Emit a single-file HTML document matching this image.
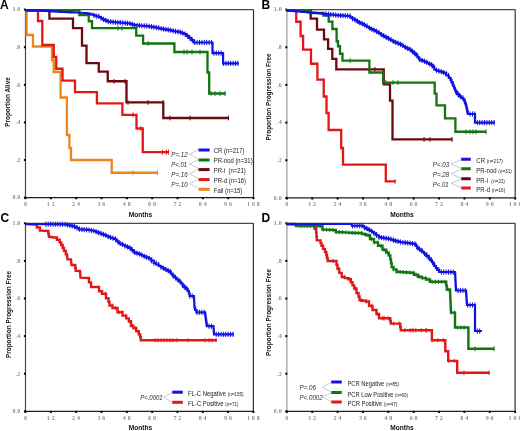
<!DOCTYPE html>
<html><head><meta charset="utf-8"><style>
html,body{margin:0;padding:0;background:#fff;}
body{width:520px;height:431px;overflow:hidden;}
svg{display:block;filter:blur(0.3px);}
text{font-family:"Liberation Sans",sans-serif;}
.yl,.xl{font-family:"Liberation Serif",serif;font-size:6px;font-weight:bold;fill:#8a8a8a;letter-spacing:0.2px;}
.mo{font-weight:bold;font-size:6.6px;fill:#111;}
.yt{font-weight:bold;font-size:6.4px;fill:#111;}
.let{font-weight:bold;font-size:12px;fill:#000;}
.lg{font-size:6.6px;fill:#1a1a1a;}
.sm{font-size:5.1px;}
.pv{font-style:italic;font-size:6.6px;fill:#2a2a2a;}
</style></head><body>
<svg width="520" height="431" viewBox="0 0 520 431">
<rect width="520" height="431" fill="#fff"/>
<path d="M25.5 9.6H253.5" fill="none" stroke="#4a4a4a" stroke-width="1.3"/>
<path d="M253.5 9.6V197.6" fill="none" stroke="#303030" stroke-width="1.2"/>
<path d="M25.5 9.6V197.6" fill="none" stroke="#454545" stroke-width="1.2"/>
<path d="M25.5 197.6H253.5" fill="none" stroke="#202020" stroke-width="1.3"/>
<rect x="23.90" y="196.60" width="2" height="2" fill="#000"/>
<rect x="23.90" y="159.00" width="2" height="2" fill="#000"/>
<rect x="23.90" y="121.40" width="2" height="2" fill="#000"/>
<rect x="23.90" y="83.80" width="2" height="2" fill="#000"/>
<rect x="23.90" y="46.20" width="2" height="2" fill="#000"/>
<rect x="23.90" y="8.60" width="2" height="2" fill="#000"/>
<rect x="24.50" y="197.20" width="2" height="2" fill="#000"/>
<rect x="49.83" y="197.20" width="2" height="2" fill="#000"/>
<rect x="75.17" y="197.20" width="2" height="2" fill="#000"/>
<rect x="100.50" y="197.20" width="2" height="2" fill="#000"/>
<rect x="125.83" y="197.20" width="2" height="2" fill="#000"/>
<rect x="151.17" y="197.20" width="2" height="2" fill="#000"/>
<rect x="176.50" y="197.20" width="2" height="2" fill="#000"/>
<rect x="201.83" y="197.20" width="2" height="2" fill="#000"/>
<rect x="227.17" y="197.20" width="2" height="2" fill="#000"/>
<rect x="252.50" y="197.20" width="2" height="2" fill="#000"/>
<text x="20.50" y="199.40" class="yl" text-anchor="end">0.0</text>
<text x="20.50" y="161.80" class="yl" text-anchor="end">.2</text>
<text x="20.50" y="124.20" class="yl" text-anchor="end">.4</text>
<text x="20.50" y="86.60" class="yl" text-anchor="end">.6</text>
<text x="20.50" y="49.00" class="yl" text-anchor="end">.8</text>
<text x="20.50" y="11.40" class="yl" text-anchor="end">1.0</text>
<text x="25.50" y="206.10" class="xl" text-anchor="middle">0</text>
<text x="50.83" y="206.10" class="xl" text-anchor="middle">1 2</text>
<text x="76.17" y="206.10" class="xl" text-anchor="middle">2 4</text>
<text x="101.50" y="206.10" class="xl" text-anchor="middle">3 6</text>
<text x="126.83" y="206.10" class="xl" text-anchor="middle">4 8</text>
<text x="152.17" y="206.10" class="xl" text-anchor="middle">6 0</text>
<text x="177.50" y="206.10" class="xl" text-anchor="middle">7 2</text>
<text x="202.83" y="206.10" class="xl" text-anchor="middle">8 4</text>
<text x="228.17" y="206.10" class="xl" text-anchor="middle">9 6</text>
<text x="253.50" y="206.10" class="xl" text-anchor="middle">1 0 8</text>
<text x="140.50" y="216.60" class="mo" text-anchor="middle">Months</text>
<path d="M286.9 9.6H515.2" fill="none" stroke="#4a4a4a" stroke-width="1.3"/>
<path d="M515.2 9.6V197.9" fill="none" stroke="#303030" stroke-width="1.2"/>
<path d="M286.9 9.6V197.9" fill="none" stroke="#9a9a9a" stroke-width="1.2"/>
<path d="M286.9 197.9H515.2" fill="none" stroke="#202020" stroke-width="1.3"/>
<rect x="285.30" y="196.90" width="2" height="2" fill="#000"/>
<rect x="285.30" y="159.24" width="2" height="2" fill="#000"/>
<rect x="285.30" y="121.58" width="2" height="2" fill="#000"/>
<rect x="285.30" y="83.92" width="2" height="2" fill="#000"/>
<rect x="285.30" y="46.26" width="2" height="2" fill="#000"/>
<rect x="285.30" y="8.60" width="2" height="2" fill="#000"/>
<rect x="285.90" y="197.50" width="2" height="2" fill="#000"/>
<rect x="311.27" y="197.50" width="2" height="2" fill="#000"/>
<rect x="336.63" y="197.50" width="2" height="2" fill="#000"/>
<rect x="362.00" y="197.50" width="2" height="2" fill="#000"/>
<rect x="387.37" y="197.50" width="2" height="2" fill="#000"/>
<rect x="412.73" y="197.50" width="2" height="2" fill="#000"/>
<rect x="438.10" y="197.50" width="2" height="2" fill="#000"/>
<rect x="463.47" y="197.50" width="2" height="2" fill="#000"/>
<rect x="488.83" y="197.50" width="2" height="2" fill="#000"/>
<rect x="514.20" y="197.50" width="2" height="2" fill="#000"/>
<text x="281.90" y="199.70" class="yl" text-anchor="end">0.0</text>
<text x="281.90" y="162.04" class="yl" text-anchor="end">.2</text>
<text x="281.90" y="124.38" class="yl" text-anchor="end">.4</text>
<text x="281.90" y="86.72" class="yl" text-anchor="end">.6</text>
<text x="281.90" y="49.06" class="yl" text-anchor="end">.8</text>
<text x="281.90" y="11.40" class="yl" text-anchor="end">1.0</text>
<text x="286.90" y="206.40" class="xl" text-anchor="middle">0</text>
<text x="312.27" y="206.40" class="xl" text-anchor="middle">1 2</text>
<text x="337.63" y="206.40" class="xl" text-anchor="middle">2 4</text>
<text x="363.00" y="206.40" class="xl" text-anchor="middle">3 6</text>
<text x="388.37" y="206.40" class="xl" text-anchor="middle">4 8</text>
<text x="413.73" y="206.40" class="xl" text-anchor="middle">6 0</text>
<text x="439.10" y="206.40" class="xl" text-anchor="middle">7 2</text>
<text x="464.47" y="206.40" class="xl" text-anchor="middle">8 4</text>
<text x="489.83" y="206.40" class="xl" text-anchor="middle">9 6</text>
<text x="515.20" y="206.40" class="xl" text-anchor="middle">1 0 8</text>
<text x="402.05" y="216.90" class="mo" text-anchor="middle">Months</text>
<path d="M25.5 223.3H253.4" fill="none" stroke="#4a4a4a" stroke-width="1.3"/>
<path d="M253.4 223.3V411.3" fill="none" stroke="#303030" stroke-width="1.2"/>
<path d="M25.5 223.3V411.3" fill="none" stroke="#454545" stroke-width="1.2"/>
<path d="M25.5 411.3H253.4" fill="none" stroke="#202020" stroke-width="1.3"/>
<rect x="23.90" y="410.30" width="2" height="2" fill="#000"/>
<rect x="23.90" y="372.70" width="2" height="2" fill="#000"/>
<rect x="23.90" y="335.10" width="2" height="2" fill="#000"/>
<rect x="23.90" y="297.50" width="2" height="2" fill="#000"/>
<rect x="23.90" y="259.90" width="2" height="2" fill="#000"/>
<rect x="23.90" y="222.30" width="2" height="2" fill="#000"/>
<rect x="24.50" y="410.90" width="2" height="2" fill="#000"/>
<rect x="49.82" y="410.90" width="2" height="2" fill="#000"/>
<rect x="75.14" y="410.90" width="2" height="2" fill="#000"/>
<rect x="100.47" y="410.90" width="2" height="2" fill="#000"/>
<rect x="125.79" y="410.90" width="2" height="2" fill="#000"/>
<rect x="151.11" y="410.90" width="2" height="2" fill="#000"/>
<rect x="176.43" y="410.90" width="2" height="2" fill="#000"/>
<rect x="201.76" y="410.90" width="2" height="2" fill="#000"/>
<rect x="227.08" y="410.90" width="2" height="2" fill="#000"/>
<rect x="252.40" y="410.90" width="2" height="2" fill="#000"/>
<text x="20.50" y="413.10" class="yl" text-anchor="end">0.0</text>
<text x="20.50" y="375.50" class="yl" text-anchor="end">.2</text>
<text x="20.50" y="337.90" class="yl" text-anchor="end">.4</text>
<text x="20.50" y="300.30" class="yl" text-anchor="end">.6</text>
<text x="20.50" y="262.70" class="yl" text-anchor="end">.8</text>
<text x="20.50" y="225.10" class="yl" text-anchor="end">1.0</text>
<text x="25.50" y="419.80" class="xl" text-anchor="middle">0</text>
<text x="50.82" y="419.80" class="xl" text-anchor="middle">1 2</text>
<text x="76.14" y="419.80" class="xl" text-anchor="middle">2 4</text>
<text x="101.47" y="419.80" class="xl" text-anchor="middle">3 6</text>
<text x="126.79" y="419.80" class="xl" text-anchor="middle">4 8</text>
<text x="152.11" y="419.80" class="xl" text-anchor="middle">6 0</text>
<text x="177.43" y="419.80" class="xl" text-anchor="middle">7 2</text>
<text x="202.76" y="419.80" class="xl" text-anchor="middle">8 4</text>
<text x="228.08" y="419.80" class="xl" text-anchor="middle">9 6</text>
<text x="253.40" y="419.80" class="xl" text-anchor="middle">1 0 8</text>
<text x="140.45" y="430.30" class="mo" text-anchor="middle">Months</text>
<path d="M286.9 223.3H515.1" fill="none" stroke="#4a4a4a" stroke-width="1.3"/>
<path d="M515.1 223.3V411.3" fill="none" stroke="#303030" stroke-width="1.2"/>
<path d="M286.9 223.3V411.3" fill="none" stroke="#9a9a9a" stroke-width="1.2"/>
<path d="M286.9 411.3H515.1" fill="none" stroke="#202020" stroke-width="1.3"/>
<rect x="285.30" y="410.30" width="2" height="2" fill="#000"/>
<rect x="285.30" y="372.70" width="2" height="2" fill="#000"/>
<rect x="285.30" y="335.10" width="2" height="2" fill="#000"/>
<rect x="285.30" y="297.50" width="2" height="2" fill="#000"/>
<rect x="285.30" y="259.90" width="2" height="2" fill="#000"/>
<rect x="285.30" y="222.30" width="2" height="2" fill="#000"/>
<rect x="285.90" y="410.90" width="2" height="2" fill="#000"/>
<rect x="311.26" y="410.90" width="2" height="2" fill="#000"/>
<rect x="336.61" y="410.90" width="2" height="2" fill="#000"/>
<rect x="361.97" y="410.90" width="2" height="2" fill="#000"/>
<rect x="387.32" y="410.90" width="2" height="2" fill="#000"/>
<rect x="412.68" y="410.90" width="2" height="2" fill="#000"/>
<rect x="438.03" y="410.90" width="2" height="2" fill="#000"/>
<rect x="463.39" y="410.90" width="2" height="2" fill="#000"/>
<rect x="488.74" y="410.90" width="2" height="2" fill="#000"/>
<rect x="514.10" y="410.90" width="2" height="2" fill="#000"/>
<text x="281.90" y="413.10" class="yl" text-anchor="end">0.0</text>
<text x="281.90" y="375.50" class="yl" text-anchor="end">.2</text>
<text x="281.90" y="337.90" class="yl" text-anchor="end">.4</text>
<text x="281.90" y="300.30" class="yl" text-anchor="end">.6</text>
<text x="281.90" y="262.70" class="yl" text-anchor="end">.8</text>
<text x="281.90" y="225.10" class="yl" text-anchor="end">1.0</text>
<text x="286.90" y="419.80" class="xl" text-anchor="middle">0</text>
<text x="312.26" y="419.80" class="xl" text-anchor="middle">1 2</text>
<text x="337.61" y="419.80" class="xl" text-anchor="middle">2 4</text>
<text x="362.97" y="419.80" class="xl" text-anchor="middle">3 6</text>
<text x="388.32" y="419.80" class="xl" text-anchor="middle">4 8</text>
<text x="413.68" y="419.80" class="xl" text-anchor="middle">6 0</text>
<text x="439.03" y="419.80" class="xl" text-anchor="middle">7 2</text>
<text x="464.39" y="419.80" class="xl" text-anchor="middle">8 4</text>
<text x="489.74" y="419.80" class="xl" text-anchor="middle">9 6</text>
<text x="515.10" y="419.80" class="xl" text-anchor="middle">1 0 8</text>
<text x="402.00" y="430.30" class="mo" text-anchor="middle">Months</text>
<polyline points="25.50,10.50 26.60,10.50 26.60,35.00 33.00,35.00 33.00,46.50 52.00,46.50 52.00,60.00 53.75,60.00 53.75,72.00 60.60,72.00 60.60,97.50 66.90,97.50 66.90,135.00 69.40,135.00 69.40,148.00 71.00,148.00 71.00,160.00 111.70,160.00 111.70,172.75 157.50,172.75" fill="none" stroke="#eb861c" stroke-width="2.3" stroke-linejoin="miter" stroke-linecap="butt"/>
<rect x="132.40" y="170.35" width="1.0" height="4.8" fill="#eb861c"/>
<rect x="157.00" y="170.35" width="1.0" height="4.8" fill="#eb861c"/>
<polyline points="25.50,10.50 38.00,10.50 38.00,21.00 42.30,21.00 42.30,45.00 53.75,45.00 53.75,57.00 56.25,57.00 56.25,68.75 62.50,68.75 62.50,80.60 75.00,80.60 75.00,92.10 96.90,92.10 96.90,103.30 122.40,103.30 122.40,114.90 136.50,114.90 136.50,128.50 142.75,128.50 142.75,152.10 168.75,152.10" fill="none" stroke="#e21818" stroke-width="2.3" stroke-linejoin="miter" stroke-linecap="butt"/>
<rect x="132.50" y="112.50" width="1.0" height="4.8" fill="#e21818"/>
<rect x="140.50" y="126.10" width="1.0" height="4.8" fill="#e21818"/>
<rect x="162.00" y="149.70" width="1.0" height="4.8" fill="#e21818"/>
<rect x="165.80" y="149.70" width="1.0" height="4.8" fill="#e21818"/>
<rect x="168.00" y="149.70" width="1.0" height="4.8" fill="#e21818"/>
<polyline points="25.50,10.50 49.40,10.50 49.40,18.60 73.00,18.60 73.00,28.10 82.00,28.10 82.00,45.60 86.50,45.60 86.50,63.10 98.75,63.10 98.75,71.60 107.75,71.60 107.75,81.25 126.50,81.25 126.50,102.40 163.30,102.40 163.30,118.00 228.75,118.00" fill="none" stroke="#6c0812" stroke-width="2.3" stroke-linejoin="miter" stroke-linecap="butt"/>
<rect x="113.50" y="78.85" width="1.0" height="4.8" fill="#6c0812"/>
<rect x="124.50" y="78.85" width="1.0" height="4.8" fill="#6c0812"/>
<rect x="127.50" y="100.00" width="1.0" height="4.8" fill="#6c0812"/>
<rect x="147.50" y="100.00" width="1.0" height="4.8" fill="#6c0812"/>
<rect x="162.50" y="100.00" width="1.0" height="4.8" fill="#6c0812"/>
<rect x="169.50" y="115.60" width="1.0" height="4.8" fill="#6c0812"/>
<rect x="189.50" y="115.60" width="1.0" height="4.8" fill="#6c0812"/>
<rect x="228.00" y="115.60" width="1.0" height="4.8" fill="#6c0812"/>
<polyline points="25.50,10.50 79.40,10.50 79.40,15.00 88.75,15.00 88.75,21.25 92.00,21.25 92.00,28.10 136.25,28.10 136.25,35.60 143.10,35.60 143.10,43.50 174.40,43.50 174.40,52.00 207.50,52.00 207.50,72.50 209.20,72.50 209.20,93.50 225.60,93.50" fill="none" stroke="#127512" stroke-width="2.3" stroke-linejoin="miter" stroke-linecap="butt"/>
<rect x="117.50" y="25.70" width="1.0" height="4.8" fill="#127512"/>
<rect x="121.50" y="25.70" width="1.0" height="4.8" fill="#127512"/>
<rect x="147.50" y="41.10" width="1.0" height="4.8" fill="#127512"/>
<rect x="183.50" y="49.60" width="1.0" height="4.8" fill="#127512"/>
<rect x="186.50" y="49.60" width="1.0" height="4.8" fill="#127512"/>
<rect x="191.50" y="49.60" width="1.0" height="4.8" fill="#127512"/>
<rect x="199.50" y="49.60" width="1.0" height="4.8" fill="#127512"/>
<rect x="210.50" y="91.10" width="1.0" height="4.8" fill="#127512"/>
<rect x="214.50" y="91.10" width="1.0" height="4.8" fill="#127512"/>
<rect x="219.50" y="91.10" width="1.0" height="4.8" fill="#127512"/>
<rect x="224.50" y="91.10" width="1.0" height="4.8" fill="#127512"/>
<polyline points="25.50,10.20 40.00,10.40 40.94,10.40 40.94,10.54 42.81,10.54 42.81,10.68 44.69,10.68 44.69,10.81 46.56,10.81 46.56,10.95 48.44,10.95 48.44,11.09 50.31,11.09 50.31,11.22 52.19,11.22 52.19,11.36 54.06,11.36 54.06,11.50 55.00,11.50 56.00,11.50 56.00,11.60 58.00,11.60 58.00,11.70 60.00,11.70 60.00,11.80 62.00,11.80 62.00,11.90 64.00,11.90 64.00,12.00 66.00,12.00 66.00,12.10 68.00,12.10 68.00,12.20 70.00,12.20 70.00,12.30 72.00,12.30 72.00,12.40 74.00,12.40 74.00,12.50 75.00,12.50 85.00,13.00 86.25,13.00 86.25,13.40 88.75,13.40 88.75,13.80 90.00,13.80 91.25,13.80 91.25,14.55 93.75,14.55 93.75,15.30 95.00,15.30 96.25,15.30 96.25,16.25 98.75,16.25 98.75,17.20 100.00,17.20 101.00,17.20 101.00,18.27 103.00,18.27 103.00,19.35 105.00,19.35 105.00,20.43 107.00,20.43 107.00,21.50 108.00,21.50 109.00,21.50 109.00,21.68 111.00,21.68 111.00,21.86 113.00,21.86 113.00,22.05 115.00,22.05 115.00,22.23 117.00,22.23 117.00,22.41 119.00,22.41 119.00,22.59 121.00,22.59 121.00,22.77 123.00,22.77 123.00,22.95 125.00,22.95 125.00,23.14 127.00,23.14 127.00,23.32 129.00,23.32 129.00,23.50 130.00,23.50 131.25,23.50 131.25,24.35 133.75,24.35 133.75,25.20 135.00,25.20 135.94,25.20 135.94,25.34 137.81,25.34 137.81,25.48 139.69,25.48 139.69,25.61 141.56,25.61 141.56,25.75 143.44,25.75 143.44,25.89 145.31,25.89 145.31,26.02 147.19,26.02 147.19,26.16 149.06,26.16 149.06,26.30 150.00,26.30 151.00,26.30 151.00,26.70 153.00,26.70 153.00,27.10 155.00,27.10 155.00,27.50 157.00,27.50 157.00,27.90 159.00,27.90 159.00,28.30 160.00,28.30 161.00,28.30 161.00,28.68 163.00,28.68 163.00,29.06 165.00,29.06 165.00,29.44 167.00,29.44 167.00,29.82 169.00,29.82 169.00,30.20 170.00,30.20 171.00,30.20 171.00,30.58 173.00,30.58 173.00,30.96 175.00,30.96 175.00,31.34 177.00,31.34 177.00,31.72 179.00,31.72 179.00,32.10 180.00,32.10 181.25,32.10 181.25,33.05 183.75,33.05 183.75,34.00 185.00,34.00 186.25,34.00 186.25,35.95 188.75,35.95 188.75,37.90 190.00,37.90 191.25,37.90 191.25,40.20 193.75,40.20 193.75,42.50 195.00,42.50 212.50,42.50 212.50,53.10 223.10,53.10 223.10,63.30 238.75,63.30" fill="none" stroke="#1212e2" stroke-width="2.2" stroke-linejoin="miter" stroke-linecap="butt"/>
<rect x="93.40" y="12.70" width="1.0" height="5.2" fill="#1212e2"/>
<rect x="95.80" y="13.65" width="1.0" height="5.2" fill="#1212e2"/>
<rect x="98.20" y="13.65" width="1.0" height="5.2" fill="#1212e2"/>
<rect x="100.60" y="15.67" width="1.0" height="5.2" fill="#1212e2"/>
<rect x="103.00" y="16.75" width="1.0" height="5.2" fill="#1212e2"/>
<rect x="105.40" y="17.82" width="1.0" height="5.2" fill="#1212e2"/>
<rect x="107.80" y="18.90" width="1.0" height="5.2" fill="#1212e2"/>
<rect x="110.20" y="19.08" width="1.0" height="5.2" fill="#1212e2"/>
<rect x="112.60" y="19.45" width="1.0" height="5.2" fill="#1212e2"/>
<rect x="115.00" y="19.63" width="1.0" height="5.2" fill="#1212e2"/>
<rect x="117.40" y="19.81" width="1.0" height="5.2" fill="#1212e2"/>
<rect x="119.80" y="19.99" width="1.0" height="5.2" fill="#1212e2"/>
<rect x="122.20" y="20.17" width="1.0" height="5.2" fill="#1212e2"/>
<rect x="124.60" y="20.54" width="1.0" height="5.2" fill="#1212e2"/>
<rect x="127.00" y="20.72" width="1.0" height="5.2" fill="#1212e2"/>
<rect x="129.40" y="20.90" width="1.0" height="5.2" fill="#1212e2"/>
<rect x="131.80" y="21.75" width="1.0" height="5.2" fill="#1212e2"/>
<rect x="134.20" y="22.60" width="1.0" height="5.2" fill="#1212e2"/>
<rect x="136.60" y="22.74" width="1.0" height="5.2" fill="#1212e2"/>
<rect x="139.00" y="22.88" width="1.0" height="5.2" fill="#1212e2"/>
<rect x="141.40" y="23.15" width="1.0" height="5.2" fill="#1212e2"/>
<rect x="143.80" y="23.29" width="1.0" height="5.2" fill="#1212e2"/>
<rect x="146.20" y="23.42" width="1.0" height="5.2" fill="#1212e2"/>
<rect x="148.60" y="23.70" width="1.0" height="5.2" fill="#1212e2"/>
<rect x="151.00" y="24.10" width="1.0" height="5.2" fill="#1212e2"/>
<rect x="153.40" y="24.50" width="1.0" height="5.2" fill="#1212e2"/>
<rect x="155.80" y="24.90" width="1.0" height="5.2" fill="#1212e2"/>
<rect x="158.20" y="25.30" width="1.0" height="5.2" fill="#1212e2"/>
<rect x="160.60" y="26.08" width="1.0" height="5.2" fill="#1212e2"/>
<rect x="163.00" y="26.46" width="1.0" height="5.2" fill="#1212e2"/>
<rect x="165.40" y="26.84" width="1.0" height="5.2" fill="#1212e2"/>
<rect x="167.80" y="27.22" width="1.0" height="5.2" fill="#1212e2"/>
<rect x="170.20" y="27.60" width="1.0" height="5.2" fill="#1212e2"/>
<rect x="172.60" y="28.36" width="1.0" height="5.2" fill="#1212e2"/>
<rect x="175.00" y="28.74" width="1.0" height="5.2" fill="#1212e2"/>
<rect x="177.40" y="29.12" width="1.0" height="5.2" fill="#1212e2"/>
<rect x="179.80" y="29.50" width="1.0" height="5.2" fill="#1212e2"/>
<rect x="182.20" y="30.45" width="1.0" height="5.2" fill="#1212e2"/>
<rect x="184.60" y="31.40" width="1.0" height="5.2" fill="#1212e2"/>
<rect x="187.00" y="33.35" width="1.0" height="5.2" fill="#1212e2"/>
<rect x="189.40" y="35.30" width="1.0" height="5.2" fill="#1212e2"/>
<rect x="191.80" y="37.60" width="1.0" height="5.2" fill="#1212e2"/>
<rect x="194.20" y="39.90" width="1.0" height="5.2" fill="#1212e2"/>
<rect x="196.60" y="39.90" width="1.0" height="5.2" fill="#1212e2"/>
<rect x="199.00" y="39.90" width="1.0" height="5.2" fill="#1212e2"/>
<rect x="201.40" y="39.90" width="1.0" height="5.2" fill="#1212e2"/>
<rect x="203.80" y="39.90" width="1.0" height="5.2" fill="#1212e2"/>
<rect x="206.20" y="39.90" width="1.0" height="5.2" fill="#1212e2"/>
<rect x="208.60" y="39.90" width="1.0" height="5.2" fill="#1212e2"/>
<rect x="211.00" y="39.90" width="1.0" height="5.2" fill="#1212e2"/>
<rect x="213.40" y="50.50" width="1.0" height="5.2" fill="#1212e2"/>
<rect x="215.80" y="50.50" width="1.0" height="5.2" fill="#1212e2"/>
<rect x="218.20" y="50.50" width="1.0" height="5.2" fill="#1212e2"/>
<rect x="220.60" y="50.50" width="1.0" height="5.2" fill="#1212e2"/>
<rect x="223.00" y="60.70" width="1.0" height="5.2" fill="#1212e2"/>
<rect x="225.40" y="60.70" width="1.0" height="5.2" fill="#1212e2"/>
<rect x="227.80" y="60.70" width="1.0" height="5.2" fill="#1212e2"/>
<rect x="230.20" y="60.70" width="1.0" height="5.2" fill="#1212e2"/>
<rect x="232.60" y="60.70" width="1.0" height="5.2" fill="#1212e2"/>
<rect x="235.00" y="60.70" width="1.0" height="5.2" fill="#1212e2"/>
<rect x="237.40" y="60.70" width="1.0" height="5.2" fill="#1212e2"/>
<polyline points="286.50,10.50 296.25,10.50 296.25,21.75 300.60,21.75 300.60,36.00 303.10,36.00 303.10,49.60 311.00,49.60 311.00,63.75 317.40,63.75 317.40,79.60 323.75,79.60 323.75,96.50 326.50,96.50 326.50,113.00 328.60,113.00 328.60,130.00 341.20,130.00 341.20,148.00 343.00,148.00 343.00,164.60 385.80,164.60 385.80,181.30 395.70,181.30" fill="none" stroke="#e21818" stroke-width="2.3" stroke-linejoin="miter" stroke-linecap="butt"/>
<rect x="394.50" y="178.90" width="1.0" height="4.8" fill="#e21818"/>
<polyline points="286.50,10.50 310.70,10.50 310.70,18.70 317.00,18.70 317.00,29.60 324.00,29.60 324.00,39.30 328.10,39.30 328.10,48.90 332.30,48.90 332.30,58.90 336.30,58.90 336.30,69.30 383.75,69.30 383.75,84.40 390.00,84.40 390.00,100.60 392.50,100.60 392.50,139.40 452.50,139.40" fill="none" stroke="#6c0812" stroke-width="2.3" stroke-linejoin="miter" stroke-linecap="butt"/>
<rect x="374.50" y="66.90" width="1.0" height="4.8" fill="#6c0812"/>
<rect x="423.50" y="137.00" width="1.0" height="4.8" fill="#6c0812"/>
<rect x="429.50" y="137.00" width="1.0" height="4.8" fill="#6c0812"/>
<rect x="451.50" y="137.00" width="1.0" height="4.8" fill="#6c0812"/>
<polyline points="286.50,10.50 310.00,10.50 310.00,13.00 323.40,13.00 323.40,15.60 328.70,15.60 328.70,21.70 332.40,21.70 332.40,29.00 336.60,29.00 336.60,41.25 338.00,41.25 338.00,46.25 340.00,46.25 340.00,53.75 342.50,53.75 342.50,60.60 369.40,60.60 369.40,72.50 383.10,72.50 383.10,82.60 434.70,82.60 434.70,93.60 436.50,93.60 436.50,105.40 445.00,105.40 445.00,118.30 455.40,118.30 455.40,131.75 486.25,131.75" fill="none" stroke="#127512" stroke-width="2.3" stroke-linejoin="miter" stroke-linecap="butt"/>
<rect x="349.50" y="58.20" width="1.0" height="4.8" fill="#127512"/>
<rect x="385.50" y="80.20" width="1.0" height="4.8" fill="#127512"/>
<rect x="392.50" y="80.20" width="1.0" height="4.8" fill="#127512"/>
<rect x="397.50" y="80.20" width="1.0" height="4.8" fill="#127512"/>
<rect x="465.50" y="129.35" width="1.0" height="4.8" fill="#127512"/>
<rect x="469.50" y="129.35" width="1.0" height="4.8" fill="#127512"/>
<rect x="472.50" y="129.35" width="1.0" height="4.8" fill="#127512"/>
<rect x="475.50" y="129.35" width="1.0" height="4.8" fill="#127512"/>
<rect x="485.50" y="129.35" width="1.0" height="4.8" fill="#127512"/>
<polyline points="286.50,10.50 287.56,10.50 287.56,10.68 289.69,10.68 289.69,10.85 291.81,10.85 291.81,11.02 293.94,11.02 293.94,11.20 295.00,11.20 296.00,11.20 296.00,11.36 298.00,11.36 298.00,11.52 300.00,11.52 300.00,11.68 302.00,11.68 302.00,11.84 304.00,11.84 304.00,12.00 306.00,12.00 306.00,12.16 308.00,12.16 308.00,12.32 310.00,12.32 310.00,12.48 312.00,12.48 312.00,12.64 314.00,12.64 314.00,12.80 315.00,12.80 315.99,12.80 315.99,13.02 317.97,13.02 317.97,13.24 319.95,13.24 319.95,13.45 321.94,13.45 321.94,13.67 323.92,13.67 323.92,13.89 325.90,13.89 325.90,14.11 327.88,14.11 327.88,14.33 329.86,14.33 329.86,14.55 331.85,14.55 331.85,14.76 333.83,14.76 333.83,14.98 335.81,14.98 335.81,15.20 336.80,15.20 337.83,15.20 337.83,15.33 339.90,15.33 339.90,15.47 341.97,15.47 341.97,15.60 344.03,15.60 344.03,15.73 346.10,15.73 346.10,15.87 348.17,15.87 348.17,16.00 349.20,16.00 350.28,16.00 350.28,17.32 352.44,17.32 352.44,18.64 354.60,18.64 354.60,19.96 356.76,19.96 356.76,21.28 358.92,21.28 358.92,22.60 360.00,22.60 361.00,22.60 361.00,23.68 363.00,23.68 363.00,24.76 365.00,24.76 365.00,25.84 367.00,25.84 367.00,26.92 369.00,26.92 369.00,28.00 370.00,28.00 371.00,28.00 371.00,29.08 373.00,29.08 373.00,30.16 375.00,30.16 375.00,31.24 377.00,31.24 377.00,32.32 379.00,32.32 379.00,33.40 380.00,33.40 381.00,33.40 381.00,34.62 383.00,34.62 383.00,35.84 385.00,35.84 385.00,37.06 387.00,37.06 387.00,38.28 389.00,38.28 389.00,39.50 390.00,39.50 391.00,39.50 391.00,40.44 393.00,40.44 393.00,41.38 395.00,41.38 395.00,42.32 397.00,42.32 397.00,43.26 399.00,43.26 399.00,44.20 400.00,44.20 401.00,44.20 401.00,45.26 403.00,45.26 403.00,46.32 405.00,46.32 405.00,47.38 407.00,47.38 407.00,48.44 409.00,48.44 409.00,49.50 410.00,49.50 411.25,49.50 411.25,51.45 413.75,51.45 413.75,53.40 415.00,53.40 415.83,53.40 415.83,55.43 417.50,55.43 417.50,57.47 419.17,57.47 419.17,59.50 420.00,59.50 421.00,59.50 421.00,60.38 423.00,60.38 423.00,61.27 425.00,61.27 425.00,62.15 427.00,62.15 427.00,63.03 429.00,63.03 429.00,63.92 431.00,63.92 431.00,64.80 432.00,64.80 432.75,64.80 432.75,67.15 434.25,67.15 434.25,69.50 435.00,69.50 436.00,69.50 436.00,70.24 438.00,70.24 438.00,70.98 440.00,70.98 440.00,71.72 442.00,71.72 442.00,72.46 444.00,72.46 444.00,73.20 445.00,73.20 446.25,73.20 446.25,75.50 448.75,75.50 448.75,77.80 450.00,77.80 450.50,77.80 450.50,79.97 451.50,79.97 451.50,82.13 452.50,82.13 452.50,84.30 453.00,84.30 453.38,84.30 453.38,86.15 454.12,86.15 454.12,88.00 454.88,88.00 454.88,89.85 455.62,89.85 455.62,91.70 456.00,91.70 457.00,91.70 457.00,94.05 459.00,94.05 459.00,96.40 460.00,96.40 461.00,96.40 461.00,97.80 463.00,97.80 463.00,99.20 464.00,99.20 464.33,99.20 464.33,101.03 465.00,101.03 465.00,102.87 465.67,102.87 465.67,104.70 466.00,104.70 466.20,104.70 466.20,106.56 466.60,106.56 466.60,108.42 467.00,108.42 467.00,110.28 467.40,110.28 467.40,112.14 467.80,112.14 467.80,114.00 468.00,114.00 475.00,114.00 475.00,122.60 495.00,122.60" fill="none" stroke="#1212e2" stroke-width="2.2" stroke-linejoin="miter" stroke-linecap="butt"/>
<rect x="325.60" y="11.51" width="1.0" height="5.2" fill="#1212e2"/>
<rect x="328.00" y="11.73" width="1.0" height="5.2" fill="#1212e2"/>
<rect x="330.40" y="11.95" width="1.0" height="5.2" fill="#1212e2"/>
<rect x="332.80" y="12.16" width="1.0" height="5.2" fill="#1212e2"/>
<rect x="335.20" y="12.38" width="1.0" height="5.2" fill="#1212e2"/>
<rect x="337.60" y="12.73" width="1.0" height="5.2" fill="#1212e2"/>
<rect x="340.00" y="12.87" width="1.0" height="5.2" fill="#1212e2"/>
<rect x="342.40" y="13.00" width="1.0" height="5.2" fill="#1212e2"/>
<rect x="344.80" y="13.13" width="1.0" height="5.2" fill="#1212e2"/>
<rect x="347.20" y="13.27" width="1.0" height="5.2" fill="#1212e2"/>
<rect x="349.60" y="13.40" width="1.0" height="5.2" fill="#1212e2"/>
<rect x="352.00" y="16.04" width="1.0" height="5.2" fill="#1212e2"/>
<rect x="354.40" y="17.36" width="1.0" height="5.2" fill="#1212e2"/>
<rect x="356.80" y="18.68" width="1.0" height="5.2" fill="#1212e2"/>
<rect x="359.20" y="20.00" width="1.0" height="5.2" fill="#1212e2"/>
<rect x="361.60" y="21.08" width="1.0" height="5.2" fill="#1212e2"/>
<rect x="364.00" y="22.16" width="1.0" height="5.2" fill="#1212e2"/>
<rect x="366.40" y="23.24" width="1.0" height="5.2" fill="#1212e2"/>
<rect x="368.80" y="25.40" width="1.0" height="5.2" fill="#1212e2"/>
<rect x="371.20" y="26.48" width="1.0" height="5.2" fill="#1212e2"/>
<rect x="373.60" y="27.56" width="1.0" height="5.2" fill="#1212e2"/>
<rect x="376.00" y="28.64" width="1.0" height="5.2" fill="#1212e2"/>
<rect x="378.40" y="29.72" width="1.0" height="5.2" fill="#1212e2"/>
<rect x="380.80" y="32.02" width="1.0" height="5.2" fill="#1212e2"/>
<rect x="383.20" y="33.24" width="1.0" height="5.2" fill="#1212e2"/>
<rect x="385.60" y="34.46" width="1.0" height="5.2" fill="#1212e2"/>
<rect x="388.00" y="35.68" width="1.0" height="5.2" fill="#1212e2"/>
<rect x="390.40" y="36.90" width="1.0" height="5.2" fill="#1212e2"/>
<rect x="392.80" y="38.78" width="1.0" height="5.2" fill="#1212e2"/>
<rect x="395.20" y="39.72" width="1.0" height="5.2" fill="#1212e2"/>
<rect x="397.60" y="40.66" width="1.0" height="5.2" fill="#1212e2"/>
<rect x="400.00" y="41.60" width="1.0" height="5.2" fill="#1212e2"/>
<rect x="402.40" y="42.66" width="1.0" height="5.2" fill="#1212e2"/>
<rect x="404.80" y="44.78" width="1.0" height="5.2" fill="#1212e2"/>
<rect x="407.20" y="45.84" width="1.0" height="5.2" fill="#1212e2"/>
<rect x="409.60" y="46.90" width="1.0" height="5.2" fill="#1212e2"/>
<rect x="412.00" y="48.85" width="1.0" height="5.2" fill="#1212e2"/>
<rect x="414.40" y="50.80" width="1.0" height="5.2" fill="#1212e2"/>
<rect x="416.80" y="52.83" width="1.0" height="5.2" fill="#1212e2"/>
<rect x="419.20" y="56.90" width="1.0" height="5.2" fill="#1212e2"/>
<rect x="421.60" y="57.78" width="1.0" height="5.2" fill="#1212e2"/>
<rect x="424.00" y="58.67" width="1.0" height="5.2" fill="#1212e2"/>
<rect x="426.40" y="59.55" width="1.0" height="5.2" fill="#1212e2"/>
<rect x="428.80" y="61.32" width="1.0" height="5.2" fill="#1212e2"/>
<rect x="431.20" y="62.20" width="1.0" height="5.2" fill="#1212e2"/>
<rect x="433.60" y="64.55" width="1.0" height="5.2" fill="#1212e2"/>
<rect x="436.00" y="67.64" width="1.0" height="5.2" fill="#1212e2"/>
<rect x="438.40" y="68.38" width="1.0" height="5.2" fill="#1212e2"/>
<rect x="440.80" y="69.12" width="1.0" height="5.2" fill="#1212e2"/>
<rect x="443.20" y="69.86" width="1.0" height="5.2" fill="#1212e2"/>
<rect x="445.60" y="70.60" width="1.0" height="5.2" fill="#1212e2"/>
<rect x="448.00" y="72.90" width="1.0" height="5.2" fill="#1212e2"/>
<rect x="450.40" y="77.37" width="1.0" height="5.2" fill="#1212e2"/>
<rect x="452.80" y="81.70" width="1.0" height="5.2" fill="#1212e2"/>
<rect x="455.20" y="89.10" width="1.0" height="5.2" fill="#1212e2"/>
<rect x="457.60" y="91.45" width="1.0" height="5.2" fill="#1212e2"/>
<rect x="460.00" y="93.80" width="1.0" height="5.2" fill="#1212e2"/>
<rect x="462.40" y="95.20" width="1.0" height="5.2" fill="#1212e2"/>
<rect x="464.80" y="100.27" width="1.0" height="5.2" fill="#1212e2"/>
<rect x="467.20" y="109.54" width="1.0" height="5.2" fill="#1212e2"/>
<rect x="469.60" y="111.40" width="1.0" height="5.2" fill="#1212e2"/>
<rect x="472.00" y="111.40" width="1.0" height="5.2" fill="#1212e2"/>
<rect x="474.40" y="111.40" width="1.0" height="5.2" fill="#1212e2"/>
<rect x="476.80" y="120.00" width="1.0" height="5.2" fill="#1212e2"/>
<rect x="479.20" y="120.00" width="1.0" height="5.2" fill="#1212e2"/>
<rect x="481.60" y="120.00" width="1.0" height="5.2" fill="#1212e2"/>
<rect x="484.00" y="120.00" width="1.0" height="5.2" fill="#1212e2"/>
<rect x="486.40" y="120.00" width="1.0" height="5.2" fill="#1212e2"/>
<rect x="488.80" y="120.00" width="1.0" height="5.2" fill="#1212e2"/>
<rect x="491.20" y="120.00" width="1.0" height="5.2" fill="#1212e2"/>
<rect x="493.60" y="120.00" width="1.0" height="5.2" fill="#1212e2"/>
<polyline points="25.40,224.00 35.30,224.50 36.85,224.50 36.85,227.55 39.95,227.55 39.95,230.60 41.50,230.60 48.00,231.00 48.30,231.00 48.30,233.90 48.90,233.90 48.90,236.80 49.20,236.80 50.65,236.80 50.65,237.15 53.55,237.15 53.55,237.50 55.00,237.50 56.90,237.50 56.90,239.70 58.80,239.70 59.60,239.70 59.60,242.35 61.20,242.35 61.20,245.00 62.00,245.00 62.67,245.00 62.67,248.00 64.03,248.00 64.03,251.00 64.70,251.00 65.85,251.00 65.85,254.20 67.00,254.20 67.50,259.40 71.00,259.40 71.50,265.00 75.00,265.00 75.25,265.00 75.25,267.95 75.75,267.95 75.75,270.90 76.00,270.90 80.00,271.00 80.50,277.70 88.00,278.00 89.00,278.00 89.00,282.40 90.00,282.40 91.00,282.40 91.00,287.00 92.00,287.00 98.00,287.00 99.00,287.00 99.00,291.20 100.00,291.20 102.00,291.20 102.00,293.80 104.00,293.80 106.00,293.80 106.00,298.20 108.00,298.20 108.50,298.20 108.50,301.85 109.50,301.85 109.50,305.50 110.00,305.50 112.50,305.50 112.50,308.00 115.00,308.00 117.50,308.00 117.50,312.20 120.00,312.20 122.50,312.20 122.50,315.60 125.00,315.60 126.25,315.60 126.25,318.40 128.75,318.40 128.75,321.20 130.00,321.20 131.00,321.20 131.00,326.00 132.00,326.00 133.50,326.00 133.50,328.20 135.00,328.20 136.25,328.20 136.25,331.30 138.75,331.30 138.75,334.40 140.00,334.40 140.25,334.40 140.25,337.30 140.75,337.30 140.75,340.20 141.00,340.20 216.90,340.20" fill="none" stroke="#e21818" stroke-width="2.4" stroke-linejoin="miter" stroke-linecap="butt"/>
<rect x="104.85" y="291.70" width="0.9" height="4.2" fill="#e21818"/>
<rect x="108.25" y="299.75" width="0.9" height="4.2" fill="#e21818"/>
<rect x="111.65" y="303.40" width="0.9" height="4.2" fill="#e21818"/>
<rect x="115.05" y="305.90" width="0.9" height="4.2" fill="#e21818"/>
<rect x="118.45" y="310.10" width="0.9" height="4.2" fill="#e21818"/>
<rect x="121.85" y="310.10" width="0.9" height="4.2" fill="#e21818"/>
<rect x="125.25" y="313.50" width="0.9" height="4.2" fill="#e21818"/>
<rect x="128.65" y="319.10" width="0.9" height="4.2" fill="#e21818"/>
<rect x="132.05" y="323.90" width="0.9" height="4.2" fill="#e21818"/>
<rect x="135.45" y="326.10" width="0.9" height="4.2" fill="#e21818"/>
<rect x="138.85" y="332.30" width="0.9" height="4.2" fill="#e21818"/>
<rect x="154.55" y="338.10" width="0.9" height="4.2" fill="#e21818"/>
<rect x="157.55" y="338.10" width="0.9" height="4.2" fill="#e21818"/>
<rect x="160.55" y="338.10" width="0.9" height="4.2" fill="#e21818"/>
<rect x="163.55" y="338.10" width="0.9" height="4.2" fill="#e21818"/>
<rect x="166.55" y="338.10" width="0.9" height="4.2" fill="#e21818"/>
<rect x="169.55" y="338.10" width="0.9" height="4.2" fill="#e21818"/>
<rect x="172.55" y="338.10" width="0.9" height="4.2" fill="#e21818"/>
<rect x="176.55" y="338.10" width="0.9" height="4.2" fill="#e21818"/>
<rect x="187.55" y="338.10" width="0.9" height="4.2" fill="#e21818"/>
<rect x="204.55" y="338.10" width="0.9" height="4.2" fill="#e21818"/>
<rect x="208.55" y="338.10" width="0.9" height="4.2" fill="#e21818"/>
<rect x="211.55" y="338.10" width="0.9" height="4.2" fill="#e21818"/>
<rect x="215.55" y="338.10" width="0.9" height="4.2" fill="#e21818"/>
<polyline points="25.40,224.00 66.00,224.30 67.12,224.30 67.12,224.85 69.38,224.85 69.38,225.40 71.62,225.40 71.62,225.95 73.88,225.95 73.88,226.50 75.00,226.50 76.25,226.50 76.25,227.90 78.75,227.90 78.75,229.30 80.00,229.30 81.00,229.30 81.00,229.44 83.00,229.44 83.00,229.58 85.00,229.58 85.00,229.72 87.00,229.72 87.00,229.86 89.00,229.86 89.00,230.00 90.00,230.00 91.25,230.00 91.25,230.50 93.75,230.50 93.75,231.00 95.00,231.00 96.00,231.00 96.00,231.84 98.00,231.84 98.00,232.68 100.00,232.68 100.00,233.52 102.00,233.52 102.00,234.36 104.00,234.36 104.00,235.20 105.00,235.20 106.00,235.20 106.00,235.96 108.00,235.96 108.00,236.72 110.00,236.72 110.00,237.48 112.00,237.48 112.00,238.24 114.00,238.24 114.00,239.00 115.00,239.00 116.25,239.00 116.25,241.25 118.75,241.25 118.75,243.50 120.00,243.50 121.00,243.50 121.00,244.36 123.00,244.36 123.00,245.22 125.00,245.22 125.00,246.08 127.00,246.08 127.00,246.94 129.00,246.94 129.00,247.80 130.00,247.80 131.25,247.80 131.25,250.05 133.75,250.05 133.75,252.30 135.00,252.30 136.00,252.30 136.00,253.12 138.00,253.12 138.00,253.94 140.00,253.94 140.00,254.76 142.00,254.76 142.00,255.58 144.00,255.58 144.00,256.40 145.00,256.40 146.25,256.40 146.25,257.40 148.75,257.40 148.75,258.40 150.00,258.40 151.25,258.40 151.25,260.70 153.75,260.70 153.75,263.00 155.00,263.00 156.25,263.00 156.25,264.50 158.75,264.50 158.75,266.00 160.00,266.00 161.00,266.00 161.00,267.16 163.00,267.16 163.00,268.32 165.00,268.32 165.00,269.48 167.00,269.48 167.00,270.64 169.00,270.64 169.00,271.80 170.00,271.80 170.83,271.80 170.83,273.70 172.50,273.70 172.50,275.60 174.17,275.60 174.17,277.50 175.00,277.50 176.25,277.50 176.25,279.50 178.75,279.50 178.75,281.50 180.00,281.50 180.83,281.50 180.83,283.43 182.50,283.43 182.50,285.37 184.17,285.37 184.17,287.30 185.00,287.30 185.88,287.30 185.88,289.15 187.62,289.15 187.62,291.00 188.50,291.00 188.88,291.00 188.88,293.50 189.62,293.50 189.62,296.00 190.00,296.00 194.00,296.00 194.50,307.70 195.12,307.70 195.12,310.00 196.38,310.00 196.38,312.30 197.00,312.30 205.00,312.30 205.12,312.30 205.12,314.23 205.38,314.23 205.38,316.15 205.62,316.15 205.62,318.07 205.88,318.07 205.88,320.00 206.00,320.00 206.17,320.00 206.17,322.07 206.50,322.07 206.50,324.13 206.83,324.13 206.83,326.20 207.00,326.20 213.50,326.20 214.00,334.30 233.80,334.30" fill="none" stroke="#1212e2" stroke-width="2.2" stroke-linejoin="miter" stroke-linecap="butt"/>
<rect x="45.30" y="221.55" width="1.0" height="5.2" fill="#1212e2"/>
<rect x="47.70" y="221.57" width="1.0" height="5.2" fill="#1212e2"/>
<rect x="50.10" y="221.59" width="1.0" height="5.2" fill="#1212e2"/>
<rect x="52.50" y="221.60" width="1.0" height="5.2" fill="#1212e2"/>
<rect x="54.90" y="221.62" width="1.0" height="5.2" fill="#1212e2"/>
<rect x="57.30" y="221.64" width="1.0" height="5.2" fill="#1212e2"/>
<rect x="59.70" y="221.66" width="1.0" height="5.2" fill="#1212e2"/>
<rect x="62.10" y="221.67" width="1.0" height="5.2" fill="#1212e2"/>
<rect x="64.50" y="221.69" width="1.0" height="5.2" fill="#1212e2"/>
<rect x="66.90" y="222.25" width="1.0" height="5.2" fill="#1212e2"/>
<rect x="69.30" y="222.80" width="1.0" height="5.2" fill="#1212e2"/>
<rect x="71.70" y="223.35" width="1.0" height="5.2" fill="#1212e2"/>
<rect x="74.10" y="223.90" width="1.0" height="5.2" fill="#1212e2"/>
<rect x="76.50" y="225.30" width="1.0" height="5.2" fill="#1212e2"/>
<rect x="78.90" y="226.70" width="1.0" height="5.2" fill="#1212e2"/>
<rect x="81.30" y="226.84" width="1.0" height="5.2" fill="#1212e2"/>
<rect x="83.70" y="226.98" width="1.0" height="5.2" fill="#1212e2"/>
<rect x="86.10" y="227.12" width="1.0" height="5.2" fill="#1212e2"/>
<rect x="88.50" y="227.40" width="1.0" height="5.2" fill="#1212e2"/>
<rect x="90.90" y="227.90" width="1.0" height="5.2" fill="#1212e2"/>
<rect x="93.30" y="228.40" width="1.0" height="5.2" fill="#1212e2"/>
<rect x="95.70" y="229.24" width="1.0" height="5.2" fill="#1212e2"/>
<rect x="98.10" y="230.08" width="1.0" height="5.2" fill="#1212e2"/>
<rect x="100.50" y="230.92" width="1.0" height="5.2" fill="#1212e2"/>
<rect x="102.90" y="231.76" width="1.0" height="5.2" fill="#1212e2"/>
<rect x="105.30" y="232.60" width="1.0" height="5.2" fill="#1212e2"/>
<rect x="107.70" y="234.12" width="1.0" height="5.2" fill="#1212e2"/>
<rect x="110.10" y="234.88" width="1.0" height="5.2" fill="#1212e2"/>
<rect x="112.50" y="235.64" width="1.0" height="5.2" fill="#1212e2"/>
<rect x="114.90" y="236.40" width="1.0" height="5.2" fill="#1212e2"/>
<rect x="117.30" y="238.65" width="1.0" height="5.2" fill="#1212e2"/>
<rect x="119.70" y="240.90" width="1.0" height="5.2" fill="#1212e2"/>
<rect x="122.10" y="241.76" width="1.0" height="5.2" fill="#1212e2"/>
<rect x="124.50" y="243.48" width="1.0" height="5.2" fill="#1212e2"/>
<rect x="126.90" y="244.34" width="1.0" height="5.2" fill="#1212e2"/>
<rect x="129.30" y="245.20" width="1.0" height="5.2" fill="#1212e2"/>
<rect x="131.70" y="247.45" width="1.0" height="5.2" fill="#1212e2"/>
<rect x="134.10" y="249.70" width="1.0" height="5.2" fill="#1212e2"/>
<rect x="136.50" y="250.52" width="1.0" height="5.2" fill="#1212e2"/>
<rect x="138.90" y="251.34" width="1.0" height="5.2" fill="#1212e2"/>
<rect x="141.30" y="252.16" width="1.0" height="5.2" fill="#1212e2"/>
<rect x="143.70" y="253.80" width="1.0" height="5.2" fill="#1212e2"/>
<rect x="146.10" y="254.80" width="1.0" height="5.2" fill="#1212e2"/>
<rect x="148.50" y="255.80" width="1.0" height="5.2" fill="#1212e2"/>
<rect x="150.90" y="258.10" width="1.0" height="5.2" fill="#1212e2"/>
<rect x="153.30" y="260.40" width="1.0" height="5.2" fill="#1212e2"/>
<rect x="155.70" y="260.40" width="1.0" height="5.2" fill="#1212e2"/>
<rect x="158.10" y="261.90" width="1.0" height="5.2" fill="#1212e2"/>
<rect x="160.50" y="264.56" width="1.0" height="5.2" fill="#1212e2"/>
<rect x="162.90" y="265.72" width="1.0" height="5.2" fill="#1212e2"/>
<rect x="165.30" y="266.88" width="1.0" height="5.2" fill="#1212e2"/>
<rect x="167.70" y="268.04" width="1.0" height="5.2" fill="#1212e2"/>
<rect x="170.10" y="269.20" width="1.0" height="5.2" fill="#1212e2"/>
<rect x="172.50" y="273.00" width="1.0" height="5.2" fill="#1212e2"/>
<rect x="174.90" y="274.90" width="1.0" height="5.2" fill="#1212e2"/>
<rect x="177.30" y="276.90" width="1.0" height="5.2" fill="#1212e2"/>
<rect x="179.70" y="278.90" width="1.0" height="5.2" fill="#1212e2"/>
<rect x="182.10" y="282.77" width="1.0" height="5.2" fill="#1212e2"/>
<rect x="184.50" y="284.70" width="1.0" height="5.2" fill="#1212e2"/>
<rect x="186.90" y="286.55" width="1.0" height="5.2" fill="#1212e2"/>
<rect x="189.30" y="293.40" width="1.0" height="5.2" fill="#1212e2"/>
<rect x="191.70" y="293.40" width="1.0" height="5.2" fill="#1212e2"/>
<rect x="194.10" y="305.10" width="1.0" height="5.2" fill="#1212e2"/>
<rect x="196.50" y="309.70" width="1.0" height="5.2" fill="#1212e2"/>
<rect x="198.90" y="309.70" width="1.0" height="5.2" fill="#1212e2"/>
<rect x="201.30" y="309.70" width="1.0" height="5.2" fill="#1212e2"/>
<rect x="203.70" y="309.70" width="1.0" height="5.2" fill="#1212e2"/>
<rect x="206.10" y="321.53" width="1.0" height="5.2" fill="#1212e2"/>
<rect x="208.50" y="323.60" width="1.0" height="5.2" fill="#1212e2"/>
<rect x="210.90" y="323.60" width="1.0" height="5.2" fill="#1212e2"/>
<rect x="213.30" y="328.46" width="1.0" height="5.2" fill="#1212e2"/>
<rect x="215.70" y="331.70" width="1.0" height="5.2" fill="#1212e2"/>
<rect x="218.10" y="331.70" width="1.0" height="5.2" fill="#1212e2"/>
<rect x="220.50" y="331.70" width="1.0" height="5.2" fill="#1212e2"/>
<rect x="222.90" y="331.70" width="1.0" height="5.2" fill="#1212e2"/>
<rect x="225.30" y="331.70" width="1.0" height="5.2" fill="#1212e2"/>
<rect x="227.70" y="331.70" width="1.0" height="5.2" fill="#1212e2"/>
<rect x="230.10" y="331.70" width="1.0" height="5.2" fill="#1212e2"/>
<rect x="232.50" y="331.70" width="1.0" height="5.2" fill="#1212e2"/>
<polyline points="286.50,224.00 288.16,224.00 288.16,224.19 291.47,224.19 291.47,224.38 294.78,224.38 294.78,224.56 298.09,224.56 298.09,224.75 301.41,224.75 301.41,224.94 304.72,224.94 304.72,225.12 308.03,225.12 308.03,225.31 311.34,225.31 311.34,225.50 313.00,225.50 314.50,225.50 314.50,228.80 316.00,228.80 316.17,228.80 316.17,232.67 316.50,232.67 316.50,236.53 316.83,236.53 316.83,240.40 317.00,240.40 320.00,240.40 320.50,240.40 320.50,243.10 321.50,243.10 321.50,245.80 322.00,245.80 323.00,245.80 323.00,248.90 325.00,248.90 325.00,252.00 326.00,252.00 326.33,252.00 326.33,255.00 327.00,255.00 327.00,258.00 327.67,258.00 327.67,261.00 328.00,261.00 336.00,261.00 336.50,261.00 336.50,264.90 337.50,264.90 337.50,268.80 338.00,268.80 339.25,268.80 339.25,272.90 341.75,272.90 341.75,277.00 343.00,277.00 344.75,277.00 344.75,278.10 348.25,278.10 348.25,279.20 350.00,279.20 350.83,279.20 350.83,282.30 352.50,282.30 352.50,285.40 354.17,285.40 354.17,288.50 355.00,288.50 356.50,288.50 356.50,293.00 358.00,293.00 358.50,293.00 358.50,296.50 359.50,296.50 359.50,300.00 360.00,300.00 362.00,300.00 362.00,300.75 366.00,300.75 366.00,301.50 368.00,301.50 369.00,301.50 369.00,306.00 370.00,306.00 372.50,306.00 372.50,310.00 375.00,310.00 376.50,310.00 376.50,314.00 378.00,314.00 379.00,314.00 379.00,318.20 380.00,318.20 390.00,318.20 390.25,318.20 390.25,320.90 390.75,320.90 390.75,323.60 391.00,323.60 400.00,323.60 400.25,323.60 400.25,326.95 400.75,326.95 400.75,330.30 401.00,330.30 431.90,330.30 431.90,340.20 445.30,340.20 445.30,351.20 448.20,351.20 448.20,360.90 457.20,360.90 457.20,372.80 489.60,372.80" fill="none" stroke="#e21818" stroke-width="2.4" stroke-linejoin="miter" stroke-linecap="butt"/>
<rect x="332.80" y="258.90" width="0.9" height="4.2" fill="#e21818"/>
<rect x="338.30" y="266.70" width="0.9" height="4.2" fill="#e21818"/>
<rect x="343.80" y="274.90" width="0.9" height="4.2" fill="#e21818"/>
<rect x="349.30" y="277.10" width="0.9" height="4.2" fill="#e21818"/>
<rect x="354.80" y="286.40" width="0.9" height="4.2" fill="#e21818"/>
<rect x="360.30" y="297.90" width="0.9" height="4.2" fill="#e21818"/>
<rect x="365.80" y="299.40" width="0.9" height="4.2" fill="#e21818"/>
<rect x="371.30" y="303.90" width="0.9" height="4.2" fill="#e21818"/>
<rect x="376.80" y="311.90" width="0.9" height="4.2" fill="#e21818"/>
<rect x="382.30" y="316.10" width="0.9" height="4.2" fill="#e21818"/>
<rect x="387.80" y="316.10" width="0.9" height="4.2" fill="#e21818"/>
<rect x="393.30" y="321.50" width="0.9" height="4.2" fill="#e21818"/>
<rect x="398.80" y="321.50" width="0.9" height="4.2" fill="#e21818"/>
<rect x="404.30" y="328.20" width="0.9" height="4.2" fill="#e21818"/>
<rect x="409.80" y="328.20" width="0.9" height="4.2" fill="#e21818"/>
<rect x="415.30" y="328.20" width="0.9" height="4.2" fill="#e21818"/>
<rect x="420.80" y="328.20" width="0.9" height="4.2" fill="#e21818"/>
<rect x="426.30" y="328.20" width="0.9" height="4.2" fill="#e21818"/>
<rect x="431.80" y="338.10" width="0.9" height="4.2" fill="#e21818"/>
<rect x="437.30" y="338.10" width="0.9" height="4.2" fill="#e21818"/>
<rect x="442.80" y="338.10" width="0.9" height="4.2" fill="#e21818"/>
<rect x="448.30" y="358.80" width="0.9" height="4.2" fill="#e21818"/>
<rect x="453.80" y="358.80" width="0.9" height="4.2" fill="#e21818"/>
<rect x="383.50" y="315.80" width="1.0" height="4.8" fill="#e21818"/>
<rect x="412.50" y="327.90" width="1.0" height="4.8" fill="#e21818"/>
<rect x="425.50" y="327.90" width="1.0" height="4.8" fill="#e21818"/>
<rect x="463.50" y="370.40" width="1.0" height="4.8" fill="#e21818"/>
<rect x="488.50" y="370.40" width="1.0" height="4.8" fill="#e21818"/>
<polyline points="286.50,224.00 295.50,224.00 296.00,226.00 320.80,226.00 322.40,226.00 322.40,229.60 324.00,229.60 334.60,230.00 335.80,230.00 335.80,232.00 337.00,232.00 338.84,232.00 338.84,232.20 342.52,232.20 342.52,232.40 346.20,232.40 346.20,232.60 349.88,232.60 349.88,232.80 353.56,232.80 353.56,233.00 355.40,233.00 360.00,233.00 362.00,233.00 362.00,234.10 366.00,234.10 366.00,235.20 368.00,235.20 370.00,235.20 370.00,239.00 372.00,239.00 374.00,239.00 374.00,242.40 378.00,242.40 378.00,245.80 380.00,245.80 382.50,245.80 382.50,249.70 385.00,249.70 386.25,249.70 386.25,252.60 388.75,252.60 388.75,255.50 390.00,255.50 390.33,255.50 390.33,259.33 391.00,259.33 391.00,263.17 391.67,263.17 391.67,267.00 392.00,267.00 393.50,267.00 393.50,269.40 396.50,269.40 396.50,271.80 398.00,271.80 399.75,271.80 399.75,272.05 403.25,272.05 403.25,272.30 406.75,272.30 406.75,272.55 410.25,272.55 410.25,272.80 412.00,272.80 414.00,272.80 414.00,274.75 418.00,274.75 418.00,276.70 420.00,276.70 422.00,276.70 422.00,278.10 426.00,278.10 426.00,279.50 428.00,279.50 430.00,279.50 430.00,281.80 432.00,281.80 446.00,281.80 446.25,281.80 446.25,285.65 446.75,285.65 446.75,289.50 447.00,289.50 450.00,289.50 450.07,289.50 450.07,292.80 450.21,292.80 450.21,296.10 450.36,296.10 450.36,299.40 450.50,299.40 450.50,302.70 450.64,302.70 450.64,306.00 450.79,306.00 450.79,309.30 450.93,309.30 450.93,312.60 451.00,312.60 455.00,312.60 455.00,327.50 468.40,327.50 468.40,348.70 494.40,348.70" fill="none" stroke="#127512" stroke-width="2.4" stroke-linejoin="miter" stroke-linecap="butt"/>
<rect x="300.45" y="223.90" width="0.9" height="4.2" fill="#127512"/>
<rect x="303.65" y="223.90" width="0.9" height="4.2" fill="#127512"/>
<rect x="306.85" y="223.90" width="0.9" height="4.2" fill="#127512"/>
<rect x="310.05" y="223.90" width="0.9" height="4.2" fill="#127512"/>
<rect x="313.25" y="223.90" width="0.9" height="4.2" fill="#127512"/>
<rect x="316.45" y="223.90" width="0.9" height="4.2" fill="#127512"/>
<rect x="319.65" y="223.90" width="0.9" height="4.2" fill="#127512"/>
<rect x="322.85" y="227.50" width="0.9" height="4.2" fill="#127512"/>
<rect x="326.05" y="227.59" width="0.9" height="4.2" fill="#127512"/>
<rect x="329.25" y="227.72" width="0.9" height="4.2" fill="#127512"/>
<rect x="332.45" y="227.84" width="0.9" height="4.2" fill="#127512"/>
<rect x="335.65" y="229.90" width="0.9" height="4.2" fill="#127512"/>
<rect x="338.85" y="230.10" width="0.9" height="4.2" fill="#127512"/>
<rect x="342.05" y="230.10" width="0.9" height="4.2" fill="#127512"/>
<rect x="345.25" y="230.30" width="0.9" height="4.2" fill="#127512"/>
<rect x="348.45" y="230.50" width="0.9" height="4.2" fill="#127512"/>
<rect x="351.65" y="230.70" width="0.9" height="4.2" fill="#127512"/>
<rect x="354.85" y="230.90" width="0.9" height="4.2" fill="#127512"/>
<rect x="358.05" y="230.90" width="0.9" height="4.2" fill="#127512"/>
<rect x="361.25" y="230.90" width="0.9" height="4.2" fill="#127512"/>
<rect x="364.45" y="232.00" width="0.9" height="4.2" fill="#127512"/>
<rect x="367.65" y="233.10" width="0.9" height="4.2" fill="#127512"/>
<rect x="370.85" y="236.90" width="0.9" height="4.2" fill="#127512"/>
<rect x="374.05" y="240.30" width="0.9" height="4.2" fill="#127512"/>
<rect x="377.25" y="240.30" width="0.9" height="4.2" fill="#127512"/>
<rect x="380.45" y="243.70" width="0.9" height="4.2" fill="#127512"/>
<rect x="383.65" y="247.60" width="0.9" height="4.2" fill="#127512"/>
<rect x="386.85" y="250.50" width="0.9" height="4.2" fill="#127512"/>
<rect x="390.05" y="257.23" width="0.9" height="4.2" fill="#127512"/>
<rect x="393.25" y="267.30" width="0.9" height="4.2" fill="#127512"/>
<rect x="396.45" y="269.70" width="0.9" height="4.2" fill="#127512"/>
<rect x="399.65" y="269.95" width="0.9" height="4.2" fill="#127512"/>
<rect x="402.85" y="270.20" width="0.9" height="4.2" fill="#127512"/>
<rect x="406.05" y="270.20" width="0.9" height="4.2" fill="#127512"/>
<rect x="409.25" y="270.45" width="0.9" height="4.2" fill="#127512"/>
<rect x="412.45" y="270.70" width="0.9" height="4.2" fill="#127512"/>
<rect x="415.65" y="272.65" width="0.9" height="4.2" fill="#127512"/>
<rect x="418.85" y="274.60" width="0.9" height="4.2" fill="#127512"/>
<rect x="422.05" y="276.00" width="0.9" height="4.2" fill="#127512"/>
<rect x="425.25" y="276.00" width="0.9" height="4.2" fill="#127512"/>
<rect x="428.45" y="277.40" width="0.9" height="4.2" fill="#127512"/>
<rect x="431.65" y="279.70" width="0.9" height="4.2" fill="#127512"/>
<rect x="434.85" y="279.70" width="0.9" height="4.2" fill="#127512"/>
<rect x="438.05" y="279.70" width="0.9" height="4.2" fill="#127512"/>
<rect x="441.25" y="279.70" width="0.9" height="4.2" fill="#127512"/>
<rect x="444.45" y="279.70" width="0.9" height="4.2" fill="#127512"/>
<rect x="447.65" y="287.40" width="0.9" height="4.2" fill="#127512"/>
<rect x="450.85" y="310.50" width="0.9" height="4.2" fill="#127512"/>
<rect x="454.05" y="310.50" width="0.9" height="4.2" fill="#127512"/>
<rect x="457.25" y="325.40" width="0.9" height="4.2" fill="#127512"/>
<rect x="460.45" y="325.40" width="0.9" height="4.2" fill="#127512"/>
<rect x="463.65" y="325.40" width="0.9" height="4.2" fill="#127512"/>
<rect x="474.50" y="346.30" width="1.0" height="4.8" fill="#127512"/>
<rect x="493.50" y="346.30" width="1.0" height="4.8" fill="#127512"/>
<polyline points="286.50,224.00 351.50,224.00 352.00,225.80 362.00,225.50 362.75,225.50 362.75,226.50 364.25,226.50 364.25,227.50 365.00,227.50 366.00,227.50 366.00,228.66 368.00,228.66 368.00,229.82 370.00,229.82 370.00,230.98 372.00,230.98 372.00,232.14 374.00,232.14 374.00,233.30 375.00,233.30 376.25,233.30 376.25,235.25 378.75,235.25 378.75,237.20 380.00,237.20 381.00,237.20 381.00,237.56 383.00,237.56 383.00,237.92 385.00,237.92 385.00,238.28 387.00,238.28 387.00,238.64 389.00,238.64 389.00,239.00 390.00,239.00 391.00,239.00 391.00,239.60 393.00,239.60 393.00,240.20 395.00,240.20 395.00,240.80 397.00,240.80 397.00,241.40 399.00,241.40 399.00,242.00 400.00,242.00 400.94,242.00 400.94,242.24 402.81,242.24 402.81,242.47 404.69,242.47 404.69,242.71 406.56,242.71 406.56,242.95 408.44,242.95 408.44,243.19 410.31,243.19 410.31,243.43 412.19,243.43 412.19,243.66 414.06,243.66 414.06,243.90 415.00,243.90 415.75,243.90 415.75,245.85 417.25,245.85 417.25,247.80 418.00,247.80 418.88,247.80 418.88,249.23 420.62,249.23 420.62,250.65 422.38,250.65 422.38,252.07 424.12,252.07 424.12,253.50 425.00,253.50 426.25,253.50 426.25,255.95 428.75,255.95 428.75,258.40 430.00,258.40 430.62,258.40 430.62,260.30 431.88,260.30 431.88,262.20 433.12,262.20 433.12,264.10 434.38,264.10 434.38,266.00 435.00,266.00 435.83,266.00 435.83,268.00 437.50,268.00 437.50,270.00 439.17,270.00 439.17,272.00 440.00,272.00 455.00,272.20 455.06,272.20 455.06,274.23 455.17,274.23 455.17,276.27 455.28,276.27 455.28,278.30 455.39,278.30 455.39,280.33 455.50,280.33 455.50,282.37 455.61,282.37 455.61,284.40 455.72,284.40 455.72,286.43 455.83,286.43 455.83,288.47 455.94,288.47 455.94,290.50 456.00,290.50 466.00,290.50 466.07,290.50 466.07,292.57 466.21,292.57 466.21,294.64 466.36,294.64 466.36,296.71 466.50,296.71 466.50,298.79 466.64,298.79 466.64,300.86 466.79,300.86 466.79,302.93 466.93,302.93 466.93,305.00 467.00,305.00 475.00,305.00 475.00,331.00 482.00,331.00" fill="none" stroke="#1212e2" stroke-width="2.2" stroke-linejoin="miter" stroke-linecap="butt"/>
<rect x="352.00" y="223.19" width="1.0" height="5.2" fill="#1212e2"/>
<rect x="354.40" y="223.11" width="1.0" height="5.2" fill="#1212e2"/>
<rect x="356.80" y="223.04" width="1.0" height="5.2" fill="#1212e2"/>
<rect x="359.20" y="222.97" width="1.0" height="5.2" fill="#1212e2"/>
<rect x="361.60" y="222.90" width="1.0" height="5.2" fill="#1212e2"/>
<rect x="364.00" y="224.90" width="1.0" height="5.2" fill="#1212e2"/>
<rect x="366.40" y="226.06" width="1.0" height="5.2" fill="#1212e2"/>
<rect x="368.80" y="227.22" width="1.0" height="5.2" fill="#1212e2"/>
<rect x="371.20" y="228.38" width="1.0" height="5.2" fill="#1212e2"/>
<rect x="373.60" y="230.70" width="1.0" height="5.2" fill="#1212e2"/>
<rect x="376.00" y="232.65" width="1.0" height="5.2" fill="#1212e2"/>
<rect x="378.40" y="234.60" width="1.0" height="5.2" fill="#1212e2"/>
<rect x="380.80" y="234.96" width="1.0" height="5.2" fill="#1212e2"/>
<rect x="383.20" y="235.32" width="1.0" height="5.2" fill="#1212e2"/>
<rect x="385.60" y="235.68" width="1.0" height="5.2" fill="#1212e2"/>
<rect x="388.00" y="236.04" width="1.0" height="5.2" fill="#1212e2"/>
<rect x="390.40" y="236.40" width="1.0" height="5.2" fill="#1212e2"/>
<rect x="392.80" y="237.60" width="1.0" height="5.2" fill="#1212e2"/>
<rect x="395.20" y="238.20" width="1.0" height="5.2" fill="#1212e2"/>
<rect x="397.60" y="238.80" width="1.0" height="5.2" fill="#1212e2"/>
<rect x="400.00" y="239.40" width="1.0" height="5.2" fill="#1212e2"/>
<rect x="402.40" y="239.88" width="1.0" height="5.2" fill="#1212e2"/>
<rect x="404.80" y="240.11" width="1.0" height="5.2" fill="#1212e2"/>
<rect x="407.20" y="240.35" width="1.0" height="5.2" fill="#1212e2"/>
<rect x="409.60" y="240.59" width="1.0" height="5.2" fill="#1212e2"/>
<rect x="412.00" y="241.06" width="1.0" height="5.2" fill="#1212e2"/>
<rect x="414.40" y="241.30" width="1.0" height="5.2" fill="#1212e2"/>
<rect x="416.80" y="245.20" width="1.0" height="5.2" fill="#1212e2"/>
<rect x="419.20" y="246.63" width="1.0" height="5.2" fill="#1212e2"/>
<rect x="421.60" y="248.05" width="1.0" height="5.2" fill="#1212e2"/>
<rect x="424.00" y="250.90" width="1.0" height="5.2" fill="#1212e2"/>
<rect x="426.40" y="253.35" width="1.0" height="5.2" fill="#1212e2"/>
<rect x="428.80" y="255.80" width="1.0" height="5.2" fill="#1212e2"/>
<rect x="431.20" y="257.70" width="1.0" height="5.2" fill="#1212e2"/>
<rect x="433.60" y="261.50" width="1.0" height="5.2" fill="#1212e2"/>
<rect x="436.00" y="265.40" width="1.0" height="5.2" fill="#1212e2"/>
<rect x="438.40" y="267.40" width="1.0" height="5.2" fill="#1212e2"/>
<rect x="440.80" y="269.42" width="1.0" height="5.2" fill="#1212e2"/>
<rect x="443.20" y="269.45" width="1.0" height="5.2" fill="#1212e2"/>
<rect x="445.60" y="269.48" width="1.0" height="5.2" fill="#1212e2"/>
<rect x="448.00" y="269.51" width="1.0" height="5.2" fill="#1212e2"/>
<rect x="450.40" y="269.55" width="1.0" height="5.2" fill="#1212e2"/>
<rect x="452.80" y="269.58" width="1.0" height="5.2" fill="#1212e2"/>
<rect x="455.20" y="281.80" width="1.0" height="5.2" fill="#1212e2"/>
<rect x="457.60" y="287.90" width="1.0" height="5.2" fill="#1212e2"/>
<rect x="460.00" y="287.90" width="1.0" height="5.2" fill="#1212e2"/>
<rect x="462.40" y="287.90" width="1.0" height="5.2" fill="#1212e2"/>
<rect x="464.80" y="287.90" width="1.0" height="5.2" fill="#1212e2"/>
<rect x="467.20" y="302.40" width="1.0" height="5.2" fill="#1212e2"/>
<rect x="469.60" y="302.40" width="1.0" height="5.2" fill="#1212e2"/>
<rect x="472.00" y="302.40" width="1.0" height="5.2" fill="#1212e2"/>
<rect x="474.40" y="302.40" width="1.0" height="5.2" fill="#1212e2"/>
<rect x="476.80" y="328.40" width="1.0" height="5.2" fill="#1212e2"/>
<rect x="479.20" y="328.40" width="1.0" height="5.2" fill="#1212e2"/>
<rect x="198.50" y="148.50" width="11.10" height="3" fill="#1212e2"/>
<text x="213.8" y="153.20" class="lg" textLength="30.7" lengthAdjust="spacingAndGlyphs">CR (n=217)</text>
<rect x="198.50" y="158.50" width="11.10" height="3" fill="#127512"/>
<text x="213.8" y="163.20" class="lg" textLength="38.8" lengthAdjust="spacingAndGlyphs">PR-nod (n=31)</text>
<rect x="198.50" y="168.10" width="11.10" height="3" fill="#6c0812"/>
<text x="213.8" y="172.80" class="lg" textLength="32.0" lengthAdjust="spacingAndGlyphs">PR-i&#160; (n=21)</text>
<rect x="198.50" y="178.10" width="11.10" height="3" fill="#e21818"/>
<text x="213.8" y="182.80" class="lg" textLength="32.3" lengthAdjust="spacingAndGlyphs">PR-d (n=16)</text>
<rect x="198.50" y="187.80" width="11.10" height="3" fill="#eb861c"/>
<text x="213.8" y="192.50" class="lg" textLength="28.4" lengthAdjust="spacingAndGlyphs">Fail (n=15)</text>
<text x="171.3" y="157.10" class="pv" textLength="16.5" lengthAdjust="spacingAndGlyphs">P=.12</text>
<path d="M198 149.7L189.5 154.2L198 158.7" fill="none" stroke="#9ab" stroke-width="0.6"/>
<text x="171.3" y="166.90" class="pv" textLength="15.9" lengthAdjust="spacingAndGlyphs">P&lt;.01</text>
<path d="M198 159.7L189.5 164.0L198 168.3" fill="none" stroke="#9ab" stroke-width="0.6"/>
<text x="171.3" y="176.70" class="pv" textLength="16.5" lengthAdjust="spacingAndGlyphs">P=.16</text>
<path d="M198 169.3L189.5 173.8L198 178.3" fill="none" stroke="#9ab" stroke-width="0.6"/>
<text x="171.3" y="186.55" class="pv" textLength="16.5" lengthAdjust="spacingAndGlyphs">P=.10</text>
<path d="M198 179.3L189.5 183.65L198 188.0" fill="none" stroke="#9ab" stroke-width="0.6"/>
<rect x="461.25" y="157.75" width="9.50" height="3" fill="#1212e2"/>
<text x="476.3" y="163.15" class="lg" textLength="26.6" lengthAdjust="spacingAndGlyphs">CR <tspan class="sm">(n=217)</tspan></text>
<rect x="461.25" y="167.25" width="9.50" height="3" fill="#127512"/>
<text x="476.3" y="172.65" class="lg" textLength="35.5" lengthAdjust="spacingAndGlyphs">PR-nod <tspan class="sm">(n=31)</tspan></text>
<rect x="461.25" y="177.25" width="9.50" height="3" fill="#6c0812"/>
<text x="476.3" y="182.65" class="lg" textLength="28.6" lengthAdjust="spacingAndGlyphs">PR-i&#160; <tspan class="sm">(n=21)</tspan></text>
<rect x="461.25" y="186.50" width="9.50" height="3" fill="#e21818"/>
<text x="476.3" y="191.90" class="lg" textLength="28.9" lengthAdjust="spacingAndGlyphs">PR-d <tspan class="sm">(n=16)</tspan></text>
<text x="432.8" y="167.30" class="pv" textLength="16.5" lengthAdjust="spacingAndGlyphs">P&lt;.03</text>
<path d="M461 159.75L451 164.0L461 168.25" fill="none" stroke="#9ab" stroke-width="0.6"/>
<text x="432.8" y="177.05" class="pv" textLength="16.5" lengthAdjust="spacingAndGlyphs">P=.28</text>
<path d="M461 169.25L451 173.75L461 178.25" fill="none" stroke="#9ab" stroke-width="0.6"/>
<text x="432.8" y="186.68" class="pv" textLength="15.9" lengthAdjust="spacingAndGlyphs">P&lt;.01</text>
<path d="M461 179.25L451 183.375L461 187.5" fill="none" stroke="#9ab" stroke-width="0.6"/>
<rect x="172.20" y="390.70" width="10.60" height="3" fill="#1212e2"/>
<text x="188" y="395.70" class="lg" textLength="55.5" lengthAdjust="spacingAndGlyphs">FL-C Negative <tspan class="sm">(n=155)</tspan></text>
<rect x="172.20" y="400.80" width="10.60" height="3" fill="#e21818"/>
<text x="188" y="405.80" class="lg" textLength="50.6" lengthAdjust="spacingAndGlyphs">FL-C Positive <tspan class="sm">(n=71)</tspan></text>
<text x="140.2" y="400.00" class="pv" textLength="22.5" lengthAdjust="spacingAndGlyphs">P&lt;.0001</text>
<path d="M172 392.7L163.5 397.3L172 401.8" fill="none" stroke="#9ab" stroke-width="0.6"/>
<rect x="331.25" y="380.50" width="10.50" height="3" fill="#1212e2"/>
<text x="347.5" y="386.10" class="lg" textLength="51.5" lengthAdjust="spacingAndGlyphs">PCR Negative <tspan class="sm">(n=85)</tspan></text>
<rect x="331.25" y="391.00" width="10.50" height="3" fill="#127512"/>
<text x="347.5" y="396.60" class="lg" textLength="60.5" lengthAdjust="spacingAndGlyphs">PCR Low Positive <tspan class="sm">(n=60)</tspan></text>
<rect x="331.25" y="400.50" width="10.50" height="3" fill="#e21818"/>
<text x="347.5" y="406.10" class="lg" textLength="49.7" lengthAdjust="spacingAndGlyphs">PCR Positive <tspan class="sm">(n=47)</tspan></text>
<text x="299.5" y="390.45" class="pv" textLength="16.5" lengthAdjust="spacingAndGlyphs">P=.06</text>
<path d="M331 382.5L322.5 387.25L331 392.0" fill="none" stroke="#9ab" stroke-width="0.6"/>
<text x="299.5" y="400.45" class="pv" textLength="23.2" lengthAdjust="spacingAndGlyphs">P&lt;.0002</text>
<path d="M331 393.0L322.5 397.25L331 401.5" fill="none" stroke="#9ab" stroke-width="0.6"/>
<text x="0" y="8.7" class="let">A</text>
<text x="261.5" y="8.7" class="let">B</text>
<text x="0.5" y="221.9" class="let">C</text>
<text x="261.5" y="221.5" class="let">D</text>
<text transform="translate(9.6,102) rotate(-90)" class="yt" text-anchor="middle">Proportion Alive</text>
<text transform="translate(270.5,97) rotate(-90)" class="yt" text-anchor="middle">Proportion Progression Free</text>
<text transform="translate(10.8,314.5) rotate(-90)" class="yt" text-anchor="middle">Proportion Progression Free</text>
<text transform="translate(270.5,312.5) rotate(-90)" class="yt" text-anchor="middle">Proportion Progression Free</text>
</svg>
</body></html>
